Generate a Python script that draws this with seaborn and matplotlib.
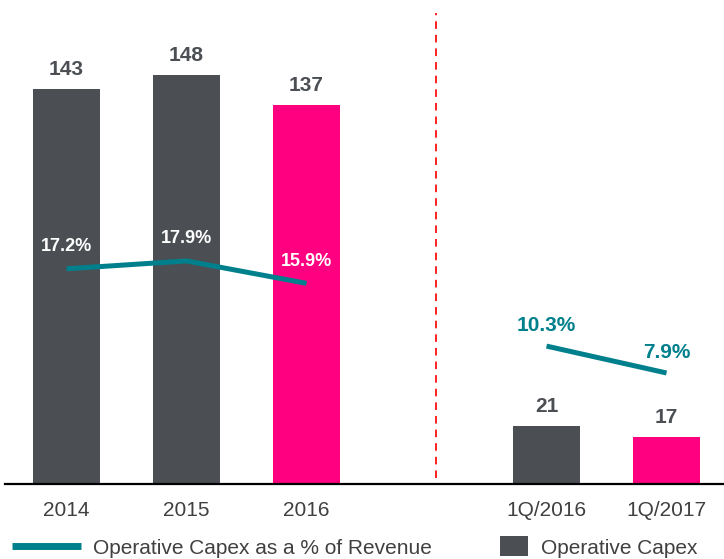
import pandas as pd
import numpy as np
import matplotlib.pyplot as plt
import seaborn as sns
from matplotlib.lines import Line2D
from matplotlib.patches import Patch

# Chart values
periods = ['2014', '2015', '2016', '1Q/2016', '1Q/2017']
capex = [143, 148, 137, 21, 17]
bar_colors = ['#4B4F54', '#4B4F54', '#FF0080', '#4B4F54', '#FF0080']
pct_annual = [17.2, 17.9, 15.9]
pct_quarter = [10.3, 7.9]

# blank slot between the annual and quarterly groups
order = ['2014', '2015', '2016', ' ', '1Q/2016', '1Q/2017']

gray = '#4B4F54'
teal = '#00808C'
text_gray = '#404040'

sns.set_style('white')
plt.rcParams['font.family'] = ['Liberation Sans', 'DejaVu Sans']

df = pd.DataFrame({'Period': periods, 'Capex': capex})
pos = {p: order.index(p) for p in periods}

fig = plt.figure(figsize=(7.24, 5.59), dpi=100)
ax = fig.add_axes([5 / 724, 75 / 559, 719 / 724, 474 / 559])

sns.barplot(data=df, x='Period', y='Capex', hue='Period', order=order,
            palette=dict(zip(periods, bar_colors)), width=0.56,
            legend=False, ax=ax, saturation=1, linewidth=0)

for c in ax.containers:
    ax.bar_label(c, padding=7, fontsize=15, fontweight='bold', color=gray)

ax.set_ylim(0, 171.4)
ax.set_xlabel('')
ax.set_ylabel('')
ax.set_yticks([])
for s in ['top', 'left', 'right']:
    ax.spines[s].set_visible(False)
ax.spines['bottom'].set_color('black')
ax.spines['bottom'].set_linewidth(1.6)
ax.tick_params(axis='x', length=0, pad=12, labelsize=15, labelcolor=text_gray)

# percentage line on its own scale
ax2 = ax.twinx()
x_annual = [pos[p] for p in periods[:3]]
x_quarter = [pos[p] for p in periods[3:]]
sns.lineplot(x=x_annual, y=pct_annual, ax=ax2, color=teal, lw=3.6, solid_capstyle='butt')
sns.lineplot(x=x_quarter, y=pct_quarter, ax=ax2, color=teal, lw=3.6, solid_capstyle='butt')
ax2.set_ylim(-2.01, 40.3)
ax2.axis('off')

for x, v in zip(x_annual, pct_annual):
    ax2.annotate(f'{v}%', (x, v), xytext=(0, 16), textcoords='offset points',
                 ha='center', va='center', fontsize=13, fontweight='bold', color='white')
for x, v in zip(x_quarter, pct_quarter):
    ax2.annotate(f'{v}%', (x, v), xytext=(0, 15), textcoords='offset points',
                 ha='center', va='center', fontsize=15, fontweight='bold', color=teal)

# dashed divider between annual and quarterly figures
ax.axvline(3.08, ymin=0.013, ymax=0.994, color='#FF2020', lw=1.4, dashes=(3.9, 3.1))

ax.set_xlim(-0.5125, 5.479)
ax2.set_xlim(-0.5125, 5.479)

fig.legend(handles=[Line2D([0], [0], color=teal, lw=5, solid_capstyle='butt')],
           labels=['Operative Capex as a % of Revenue'],
           loc='center left', bbox_to_anchor=(12 / 724, 11 / 559),
           frameon=False, fontsize=15, handlelength=3.3, handletextpad=0.6,
           borderpad=0, borderaxespad=0, labelcolor=text_gray)
fig.legend(handles=[Patch(color=gray, linewidth=0)], labels=['Operative Capex'],
           loc='center left', bbox_to_anchor=(500 / 724, 12 / 559),
           frameon=False, fontsize=15, handlelength=1.35, handleheight=1.1,
           handletextpad=0.6, borderpad=0, borderaxespad=0, labelcolor=text_gray)

plt.savefig('out.png', dpi=100)
